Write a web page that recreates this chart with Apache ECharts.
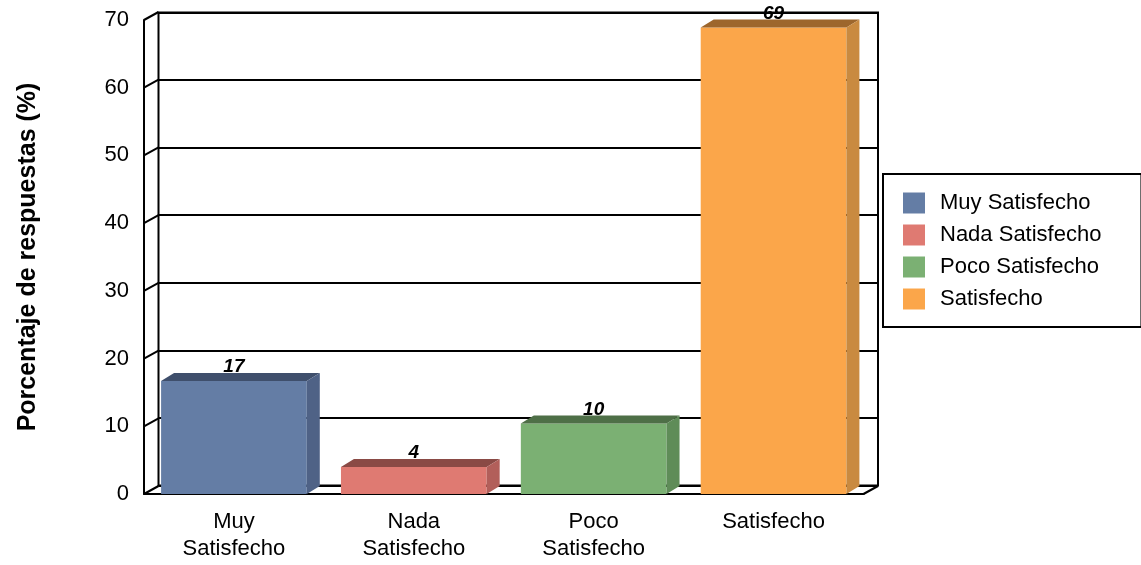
<!DOCTYPE html>
<html><head><meta charset="utf-8">
<script src="https://cdn.jsdelivr.net/npm/echarts@6/dist/echarts.min.js"></script>
<style>html,body{margin:0;padding:0;background:#fff}#c{width:1141px;height:565px}</style>
</head><body><div id="c"></div>
<script>
const categories = ['Muy Satisfecho', 'Nada Satisfecho', 'Poco Satisfecho', 'Satisfecho'];
const axisLabels = ['Muy\nSatisfecho', 'Nada\nSatisfecho', 'Poco\nSatisfecho', 'Satisfecho'];
const values = [16.7, 4.0, 10.4, 68.9];
const valueLabels = ['17', '4', '10', '69'];
const yTicks = [0, 10, 20, 30, 40, 50, 60, 70];
const frontColors = ['#647DA5', '#DF7A72', '#7BB073', '#FBA64A'];
const topColors = ['#3F4F6C', '#8A4A45', '#4E6F47', '#9D662C'];
const sideColors = ['#4F6286', '#B25F5A', '#5F8C58', '#C98A40'];

const FONT = "'Liberation Sans', Arial, sans-serif";
const WALL_DX = 14.5, WALL_DY = -8;   // depth of back wall
const BAR_DX = 13, BAR_DY = -8;       // depth of bars
const BAR_FRAC = 0.81;

const chart = echarts.init(document.getElementById('c'));

const barSeries = categories.map((name, i) => ({
  type: 'custom',
  name: name,
  xAxisIndex: 0, yAxisIndex: 0,
  itemStyle: { color: frontColors[i] },
  data: [[i, values[i]]],
  z: 5,
  renderItem: function (params, api) {
    const p = api.coord([api.value(0), api.value(1)]);
    const b = api.coord([api.value(0), 0]);
    const bw = api.size([1, 0])[0] * BAR_FRAC;
    const x0 = p[0] - bw / 2, x1 = p[0] + bw / 2, yt = p[1], yb = b[1];
    return {
      type: 'group',
      children: [
        { type: 'rect', shape: { x: x0, y: yt, width: bw, height: yb - yt }, style: { fill: frontColors[i] } },
        { type: 'polygon', shape: { points: [[x0, yt], [x1, yt], [x1 + BAR_DX, yt + BAR_DY], [x0 + BAR_DX, yt + BAR_DY]] }, style: { fill: topColors[i] } },
        { type: 'polygon', shape: { points: [[x1, yt], [x1 + BAR_DX, yt + BAR_DY], [x1 + BAR_DX, yb + BAR_DY], [x1, yb]] }, style: { fill: sideColors[i] } },
        { type: 'text', z2: 10, style: { text: valueLabels[i], x: p[0], y: yt + BAR_DY - 6, align: 'center', verticalAlign: 'middle',
          font: "italic bold 19px " + FONT, fill: '#000' } }
      ]
    };
  }
}));

const option = {
  animation: false,
  backgroundColor: '#fff',
  textStyle: { fontFamily: FONT },
  grid: [
    { left: 144, right: 277.5, top: 20, bottom: 71 },
    { left: 158.5, right: 263, top: 12.5, bottom: 79.5, show: true, borderColor: '#000', borderWidth: 2, backgroundColor: 'transparent' }
  ],
  xAxis: [
    { type: 'category', gridIndex: 0, data: axisLabels,
      axisLine: { show: true, lineStyle: { color: '#000', width: 2 } },
      axisTick: { show: false },
      axisLabel: { fontSize: 22, lineHeight: 27, margin: 14, color: '#000', fontFamily: FONT, interval: 0 } },
    { type: 'category', gridIndex: 1, data: axisLabels, show: false }
  ],
  yAxis: [
    { type: 'value', gridIndex: 0, min: 0, max: 70, interval: 10,
      axisLine: { show: true, lineStyle: { color: '#000', width: 2 } },
      axisTick: { show: false },
      splitLine: { show: false },
      axisLabel: { fontSize: 22, margin: 15, color: '#000', fontFamily: FONT },
      name: 'Porcentaje de respuestas (%)', nameLocation: 'middle', nameGap: 103,
      nameTextStyle: { fontSize: 25, fontWeight: 'bold', color: '#000', fontFamily: FONT } },
    { type: 'value', gridIndex: 1, min: 0, max: 70, interval: 10,
      axisLine: { show: false }, axisTick: { show: false }, axisLabel: { show: false },
      splitLine: { show: true, lineStyle: { color: '#000', width: 2 } } }
  ],
  legend: {
    orient: 'vertical', left: 883, top: 174,
    data: categories, icon: 'rect', itemWidth: 22, itemHeight: 21, itemGap: 10,
    padding: [18, 40, 17, 20], borderColor: '#000', borderWidth: 2, selectedMode: false,
    textStyle: { fontSize: 22, lineHeight: 21, color: '#000', fontFamily: FONT, padding: [0, 0, 0, 10] }
  },
  series: [
    { type: 'custom', name: 'ticks', xAxisIndex: 0, yAxisIndex: 0, silent: true, z: 1,
      data: yTicks.map(v => [0, v]),
      renderItem: function (params, api) {
        const y = api.coord([0, api.value(1)])[1];
        const x = params.coordSys.x;
        return { type: 'line', shape: { x1: x, y1: y, x2: x + WALL_DX, y2: y + WALL_DY }, style: { stroke: '#000', lineWidth: 2 } };
      } },
    { type: 'custom', name: 'floor', xAxisIndex: 0, yAxisIndex: 0, silent: true, z: 1,
      data: [[categories.length - 1, 0]],
      renderItem: function (params, api) {
        const y = api.coord([0, 0])[1];
        const x = params.coordSys.x + params.coordSys.width;
        return { type: 'line', shape: { x1: x, y1: y, x2: x + WALL_DX, y2: y + WALL_DY }, style: { stroke: '#000', lineWidth: 2 } };
      } }
  ].concat(barSeries)
};
chart.setOption(option);
</script>
</body></html>
